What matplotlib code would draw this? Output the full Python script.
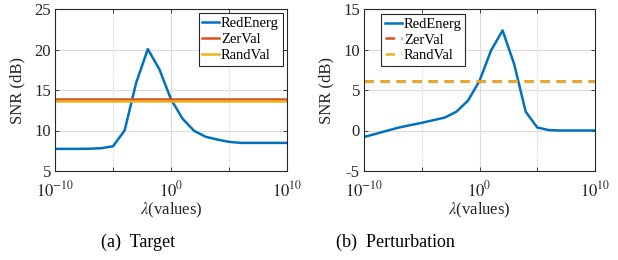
import numpy as np
import matplotlib
matplotlib.use("Agg")
import matplotlib.pyplot as plt
from matplotlib.ticker import FixedLocator, NullFormatter

plt.rcParams['font.family'] = ['Liberation Serif', 'DejaVu Serif']
plt.rcParams['mathtext.fontset'] = 'stix'
plt.rcParams['axes.unicode_minus'] = False

log_lambda = list(range(-10, 11))
target_red = [7.73, 7.73, 7.73, 7.75, 7.82, 8.05, 10.0, 15.9, 20.05, 17.55, 13.85,
              11.45, 9.95, 9.22, 8.88, 8.6, 8.47, 8.47, 8.47, 8.47, 8.47]
target_zer = 13.88
target_rand = 13.66
pert_red = [-0.8, -0.42, -0.03, 0.36, 0.66, 0.95, 1.27, 1.6, 2.32, 3.68, 6.12,
            9.88, 12.35, 8.2, 2.32, 0.37, 0.05, 0.0, 0.0, 0.0, 0.0]
pert_zer = 6.15
pert_rand = 6.15

BLUE = '#0072BD'
RED = '#D95319'
YEL = '#EDB120'

fig = plt.figure(figsize=(6.18, 2.6), dpi=100)
ax1 = fig.add_axes([55/618, 89/260, 232/618, 162/260])
ax2 = fig.add_axes([364/618, 89/260, 231/618, 162/260])

lam = [10.0**e for e in log_lambda]

def style(ax, ylim, yticks):
    ax.set_xscale('log')
    ax.set_xlim(1e-10, 1e10)
    ax.set_ylim(*ylim)
    ax.xaxis.set_major_locator(FixedLocator([1e-10, 1e0, 1e10]))
    ax.xaxis.set_minor_locator(FixedLocator([1e-5, 1e5]))
    ax.xaxis.set_minor_formatter(NullFormatter())
    ax.set_xticklabels(['$10^{-10}$', '$10^{0}$', '$10^{10}$'])
    ax.set_yticks(yticks)
    ax.set_yticklabels([str(t) for t in yticks])
    ax.grid(True, which='major', color='#dcdcdc', linewidth=0.8, linestyle='-')
    ax.grid(True, which='minor', axis='x', color='#c8c8c8', linewidth=0.7, linestyle=':')
    ax.set_axisbelow(True)
    ax.tick_params(which='both', direction='in', top=True, right=True,
                   labelsize=12, colors='#262626', length=3, width=0.6)
    ax.tick_params(axis='y', pad=3)
    ax.tick_params(axis='x', pad=7)
    ax.tick_params(which='minor', length=3)
    for s in ax.spines.values():
        s.set_color('#262626')
        s.set_linewidth(0.8)
    ax.set_ylabel('SNR (dB)', fontsize=12, color='#262626', labelpad=6)
    ax.set_xlabel(r'$\lambda$(values)', fontsize=12, color='#262626', labelpad=0)

leg_kw = dict(fontsize=10.5, frameon=True, fancybox=False,
              edgecolor='#262626', framealpha=1, handlelength=1.15,
              handletextpad=0.15, borderpad=0.25, labelspacing=0.18)

ax1.plot(lam, target_red, color=BLUE, lw=1.8, label='RedEnerg')
ax1.axhline(target_zer, color=RED, lw=1.8, label='ZerVal')
ax1.axhline(target_rand, color=YEL, lw=1.8, label='RandVal')
style(ax1, (5, 25), [5, 10, 15, 20, 25])
ax1.legend(loc='upper right', borderaxespad=0.3, **leg_kw).get_frame().set_linewidth(0.8)

ax2.plot(lam, pert_red, color=BLUE, lw=1.8, label='RedEnerg')
ax2.axhline(pert_zer, color=RED, lw=1.8, ls=(0, (3.8, 2.6)), label='ZerVal')
ax2.axhline(pert_rand, color=YEL, lw=1.8, ls=(0, (3.8, 2.6)), label='RandVal')
style(ax2, (-5, 15), [-5, 0, 5, 10, 15])
ax2.legend(loc='upper left', bbox_to_anchor=(0.075, 0.97), borderaxespad=0,
           **leg_kw).get_frame().set_linewidth(0.8)

fig.text(138/618, 1 - 242/260, '(a)  Target', ha='center', va='center', fontsize=13)
fig.text(395/618, 1 - 242/260, '(b)  Perturbation', ha='center', va='center', fontsize=13)

fig.savefig('out.png', dpi=100)
